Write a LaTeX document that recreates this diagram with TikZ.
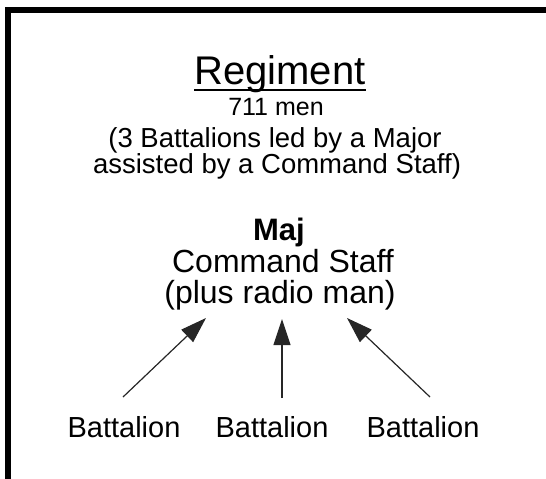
\documentclass[tikz,border=0pt]{standalone}
\usepackage{fontspec}
\setmainfont{Liberation Sans}
\usetikzlibrary{arrows.meta}
\begin{document}
\begin{tikzpicture}[x=1pt,y=-1pt,
  txt/.style={inner sep=0pt,anchor=base},
  frameline/.style={line width=6pt,line cap=butt},
  arr/.style={draw={black!85},line width=1.2pt,-{Triangle[length=26pt,width=17pt]}}]
\useasboundingbox (0,0) rectangle (546,479);
% frame along the top and left edges
\draw[frameline] (8,479) -- (8,10) -- (546,10);
% heading
\node[txt,font=\fontsize{40}{40}\selectfont] (reg) at (280,84) {Regiment};
\draw[line width=2pt] ([yshift=-6pt]reg.base west) -- ([yshift=-6pt]reg.base east);
\node[txt,font=\fontsize{25}{25}\selectfont] (men) at (276,115) {711 men};
\node[txt,font=\fontsize{27.5}{27.5}\selectfont] (l3) at (275,147) {(3 Battalions led by a Major};
\node[txt,font=\fontsize{27.5}{27.5}\selectfont] (l4) at (277,173) {assisted by a Command Staff)};
% command group
\node[txt,font=\bfseries\fontsize{31}{31}\selectfont] (maj) at (279,240) {Maj};
\node[txt,font=\fontsize{32}{32}\selectfont] (staff) at (283,272) {Command Staff};
\node[txt,font=\fontsize{32}{32}\selectfont] (radio) at (280,303) {(plus radio man)};
% battalions
\node[txt,font=\fontsize{29}{29}\selectfont] (b1) at (124,437) {Battalion};
\node[txt,font=\fontsize{29}{29}\selectfont] (b2) at (272,437) {Battalion};
\node[txt,font=\fontsize{29}{29}\selectfont] (b3) at (423,437) {Battalion};
% arrow end points
\coordinate (t1) at (123,397);
\coordinate (t2) at (282,398);
\coordinate (t3) at (430,397);
\coordinate (h1) at (206,318);
\coordinate (h2) at (282,319);
\coordinate (h3) at (347,318);
\draw[arr] (t1) -- (h1);
\draw[arr] (t2) -- (h2);
\draw[arr] (t3) -- (h3);
\end{tikzpicture}
\end{document}
